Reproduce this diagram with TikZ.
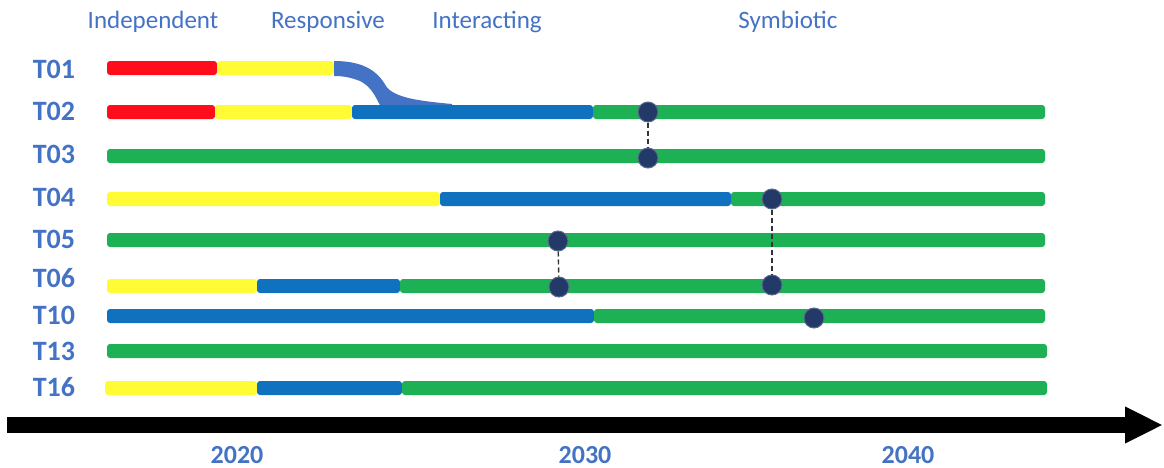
\documentclass[tikz,border=0pt]{standalone}
\usepackage{fontspec}
\setmainfont{Carlito}
\usetikzlibrary{arrows.meta}
\definecolor{txtblue}{HTML}{4472C4}
\definecolor{barred}{HTML}{FF0D1D}
\definecolor{baryellow}{HTML}{FFFC35}
\definecolor{barblue}{HTML}{1071BF}
\definecolor{bargreen}{HTML}{1DB055}
\definecolor{dotnavy}{HTML}{233A68}
% one coloured piece of a track: colour, from x, to x, row y
\newcommand{\barseg}[4]{\fill[#1,rounded corners=1.5pt] (#2,#4-7) rectangle (#3,#4+7);}
\begin{document}
\begin{tikzpicture}[x=0.5pt,y=-0.5pt,
	row label/.style={font=\fontsize{14}{16}\selectfont\bfseries,text=txtblue},
	phase label/.style={font=\fontsize{12.5}{15}\selectfont,text=txtblue},
	year label/.style={font=\fontsize{13}{15}\selectfont\bfseries,text=txtblue},
	link node/.style={circle,fill=dotnavy,draw=dotnavy!75!white,line width=0.5pt,inner sep=0pt,minimum size=10pt},
	link/.style={black!80,line width=0.7pt,dash pattern=on 2.5pt off 1.5pt}]
	\useasboundingbox (0,0) rectangle (1164,467);
	
	% phases
	\node[phase label] (indep) at (153,22) {Independent};
	\node[phase label] (resp) at (328,22) {Responsive};
	\node[phase label] (inter) at (487,22) {Interacting};
	\node[phase label] (symb) at (788,22) {Symbiotic};
	
	% tracks
	\node[row label] (T01) at (54,69) {T01};
	\node[row label] (T02) at (54,111) {T02};
	\node[row label] (T03) at (54,154) {T03};
	\node[row label] (T04) at (54,197) {T04};
	\node[row label] (T05) at (54,239) {T05};
	\node[row label] (T06) at (54,278) {T06};
	\node[row label] (T10) at (54,315) {T10};
	\node[row label] (T13) at (54,351) {T13};
	\node[row label] (T16) at (54,387) {T16};
	
	\barseg{barred}{107}{217}{68}
	\barseg{baryellow}{217}{334}{68}
	\fill[txtblue] (334,61) .. controls (362,61) and (377,70) .. (386,86)
		.. controls (394,98) and (420,101) .. (452,104) -- (452,107) -- (381,107)
		.. controls (376,98) and (372,87) .. (360,81)
		.. controls (352,78) and (345,76) .. (334,76) -- cycle;
	
	\barseg{barred}{107}{215}{112}
	\barseg{baryellow}{215}{352}{112}
	\barseg{barblue}{352}{593}{112}
	\barseg{bargreen}{593}{1045}{112}
	
	\foreach \y in {156,240} {\barseg{bargreen}{107}{1045}{\y}}
	\foreach \y in {351} {\barseg{bargreen}{107}{1047}{\y}}
	
	\barseg{baryellow}{107}{440}{199}
	\barseg{barblue}{440}{731}{199}
	\barseg{bargreen}{731}{1045}{199}
	
	\barseg{baryellow}{107}{257}{286}
	\barseg{barblue}{257}{400}{286}
	\barseg{bargreen}{400}{1045}{286}
	
	\barseg{barblue}{107}{594}{316}
	\barseg{bargreen}{594}{1045}{316}
	
	\barseg{baryellow}{105}{257}{388}
	\barseg{barblue}{257}{402}{388}
	\barseg{bargreen}{402}{1047}{388}
	
	% links between tracks
	\node[link node] (a1) at (648,112) {};
	\node[link node] (a2) at (648,158) {};
	\node[link node] (b1) at (772,199) {};
	\node[link node] (b2) at (772,285) {};
	\node[link node] (c1) at (558,241) {};
	\node[link node] (c2) at (559,287) {};
	\node[link node] (d1) at (814,318) {};
	\draw[link] (a1) -- (a2);
	\draw[link] (b1) -- (b2);
	\draw[link] (c1) -- (c2);
	
	% time axis
	\coordinate (axis start) at (7,425);
	\coordinate (axis end) at (1163,425);
	\draw[line width=8pt,-{Triangle[length=19pt,width=17pt]}] (axis start) -- (axis end);
	\node[year label] (y2020) at (237,455) {2020};
	\node[year label] (y2030) at (585,455) {2030};
	\node[year label] (y2040) at (908,455) {2040};
\end{tikzpicture}
\end{document}
